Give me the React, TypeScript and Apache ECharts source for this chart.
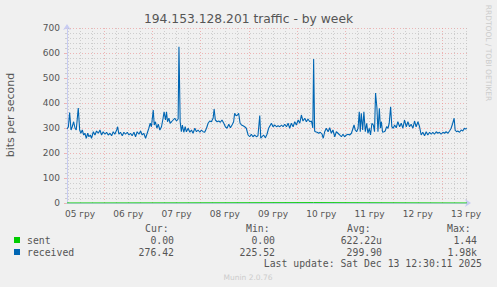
import React, { useEffect, useRef } from "react";
import * as echarts from "echarts";

// hours since 05 Dec 00:00 (local), value in bits per second
const receivedPoints: [number, number][] = [
  [5.5, 296], [6.2, 305], [6.8, 362], [7.5, 292], [8.1, 305], [8.8, 325], [9.5, 299], [10.1, 292],
  [11.1, 380], [11.8, 292], [12.4, 279], [13.1, 292], [13.8, 272], [14.4, 279], [15.1, 259], [15.8, 279],
  [16.4, 265], [17.1, 272], [17.7, 259], [18.6, 285], [19.4, 272], [20.2, 288], [21.1, 279], [21.9, 292],
  [22.7, 272], [23.5, 285], [24.4, 275], [25.2, 283], [26.0, 272], [26.9, 279], [27.7, 269], [28.5, 285],
  [29.3, 275], [30.2, 292], [30.7, 305], [31.3, 275], [32.1, 283], [33.0, 269], [33.8, 283], [34.6, 275],
  [35.5, 283], [36.3, 272], [37.1, 279], [37.9, 269], [38.8, 283], [39.6, 265], [40.4, 285], [41.3, 275],
  [42.1, 288], [42.9, 272], [43.7, 279], [44.6, 259], [45.4, 279], [46.2, 299], [46.9, 319], [47.5, 305],
  [48.4, 372], [48.9, 312], [49.5, 325], [50.2, 299], [50.9, 315], [51.7, 292], [52.5, 305], [53.3, 339],
  [53.8, 365], [54.5, 332], [55.0, 365], [55.5, 325], [56.2, 339], [56.8, 319], [57.5, 325], [58.3, 332],
  [59.1, 339], [60.0, 328], [60.8, 336], [61.2, 625], [61.8, 325], [62.4, 285], [62.9, 312], [63.6, 283],
  [64.3, 305], [64.9, 285], [65.8, 299], [66.6, 283], [67.4, 292], [68.2, 279], [69.1, 299], [69.9, 285],
  [70.7, 292], [71.6, 283], [72.4, 292], [73.2, 285], [74.0, 283], [74.9, 299], [75.7, 319], [76.5, 328],
  [77.3, 325], [78.2, 339], [78.7, 376], [79.3, 332], [80.2, 325], [81.0, 328], [81.8, 323], [82.6, 332],
  [83.5, 319], [84.3, 305], [85.1, 299], [86.0, 315], [86.8, 301], [87.6, 312], [88.4, 325], [88.9, 359],
  [89.6, 349], [90.3, 352], [90.9, 359], [91.6, 319], [92.3, 312], [93.1, 309], [93.9, 305], [94.7, 299],
  [95.6, 272], [96.4, 265], [97.2, 275], [98.0, 265], [98.9, 272], [99.7, 265], [100.5, 269], [101.4, 350],
  [101.9, 259], [102.5, 265], [103.3, 272], [104.2, 261], [105.0, 275], [105.8, 299], [107.2, 319], [108.0, 305],
  [108.9, 312], [109.7, 305], [110.5, 309], [111.4, 305], [112.2, 312], [113.0, 305], [113.8, 315], [114.7, 305],
  [115.5, 319], [116.3, 299], [117.1, 319], [118.0, 305], [118.8, 325], [119.6, 312], [120.5, 332], [121.3, 319],
  [122.1, 352], [122.9, 328], [123.8, 339], [124.6, 325], [125.4, 336], [126.3, 325], [127.1, 328], [127.8, 300],
  [128.2, 576], [128.7, 288], [129.1, 285], [129.9, 283], [130.7, 279], [131.5, 283], [132.4, 275], [133.0, 259],
  [133.7, 285], [134.5, 299], [135.4, 285], [136.2, 301], [137.0, 279], [137.8, 292], [138.7, 265], [139.5, 285],
  [140.3, 279], [141.2, 272], [142.0, 265], [142.8, 275], [143.6, 265], [144.5, 272], [145.3, 275], [146.1, 272],
  [147.0, 279], [147.8, 299], [148.3, 312], [148.9, 292], [149.6, 285], [150.3, 299], [150.9, 365], [151.4, 285],
  [151.9, 359], [152.6, 292], [153.2, 365], [153.9, 285], [154.6, 319], [155.2, 279], [155.9, 299], [156.5, 272],
  [157.2, 319], [157.9, 312], [158.5, 285], [159.0, 440], [159.7, 379], [160.2, 285], [160.9, 379], [161.4, 299],
  [161.9, 325], [162.5, 283], [163.2, 285], [163.8, 288], [164.5, 305], [165.2, 299], [165.8, 319], [166.5, 385],
  [167.1, 305], [167.8, 299], [168.5, 312], [169.3, 301], [170.1, 325], [171.0, 305], [171.8, 319], [172.6, 299],
  [173.4, 332], [174.3, 305], [175.1, 325], [175.9, 305], [176.7, 315], [177.6, 299], [178.4, 328], [179.2, 305],
  [180.1, 325], [180.9, 305], [181.7, 272], [182.5, 283], [183.4, 269], [184.2, 285], [185.0, 272], [185.9, 283],
  [186.7, 275], [187.5, 283], [188.3, 275], [189.2, 285], [190.0, 279], [190.8, 283], [191.6, 275], [192.5, 283],
  [193.3, 279], [194.1, 285], [195.0, 279], [195.8, 288], [196.6, 299], [197.4, 319], [198.1, 339], [198.6, 292],
  [199.3, 285], [199.9, 288], [200.8, 283], [201.6, 292], [202.4, 288], [203.2, 299], [203.7, 296], [204.5, 298],
];

const sentPoints: [number, number][] = [
  [5.5, 0], [61.2, 0.5], [128.2, 1.44], [204.5, 0],
];

const dayLabels = ["05 гру", "06 гру", "07 гру", "08 гру", "09 гру", "10 гру", "11 гру", "12 гру", "13 гру"];
const yTicks = { min: 0, max: 700, interval: 100 };
const timeRange = { start: 5.5, end: 204.5 };

const legendNames = ["sent", "received"];
const legendColors = ["#00CC00", "#0066B3"];
const curValues = ["0.00", "276.42"];
const minValues = ["0.00", "225.52"];
const avgValues = ["622.22u", "299.90"];
const maxValues = ["1.44", "1.98k"];

const titleText = "194.153.128.201 traffic - by week";
const yAxisTitle = "bits per second";
const lastUpdate = "Last update: Sat Dec 13 12:30:11 2025";
const footer = "Munin 2.0.76";
const sideText = "RRDTOOL / TOBI OETIKER";

const MONO = "'DejaVu Sans Mono', monospace";
const SANS = "'DejaVu Sans', sans-serif";
const TXT = "#555555";
const MAJOR = "rgba(235, 140, 140, 0.6)";
const MINOR = "rgba(190, 190, 190, 0.7)";
const AXIS = "#c8ccf2";

export default function App() {
  const ref = useRef<HTMLDivElement>(null);
  useEffect(() => {
    if (!ref.current) return;
    const chart = echarts.init(ref.current, null, { renderer: "svg" });

    const midnights: number[] = [];
    const noons: number[] = [];
    const sixHours: number[] = [];
    for (let h = 0; h <= timeRange.end; h += 6) {
      if (h < timeRange.start) continue;
      if (h % 24 === 0) midnights.push(h);
      else sixHours.push(h);
    }
    for (let i = 0; i < dayLabels.length; i++) noons.push(12 + i * 24);

    const graphics: any[] = [
      {
        type: "text", x: 248.5, y: 19,
        style: { text: titleText, font: `12.3px ${SANS}`, fill: TXT, align: "center", verticalAlign: "middle" },
      },
      {
        type: "text", x: 10, y: 115, rotation: Math.PI / 2,
        style: { text: yAxisTitle, font: `11px ${SANS}`, fill: TXT, align: "center", verticalAlign: "middle" },
      },
      {
        type: "text", x: 488, y: 53, rotation: -Math.PI / 2,
        style: { text: sideText, font: `7.5px ${SANS}`, fill: "#cccccc", align: "center", verticalAlign: "middle" },
      },
      { type: "text", x: 145, y: 228, style: { text: "Cur:", font: `9.8px ${MONO}`, fill: TXT, verticalAlign: "middle" } },
      { type: "text", x: 246, y: 228, style: { text: "Min:", font: `9.8px ${MONO}`, fill: TXT, verticalAlign: "middle" } },
      { type: "text", x: 347, y: 228, style: { text: "Avg:", font: `9.8px ${MONO}`, fill: TXT, verticalAlign: "middle" } },
      { type: "text", x: 447, y: 228, style: { text: "Max:", font: `9.8px ${MONO}`, fill: TXT, verticalAlign: "middle" } },
      {
        type: "text", x: 482, y: 263,
        style: { text: lastUpdate, font: `9.8px ${MONO}`, fill: TXT, align: "right", verticalAlign: "middle" },
      },
      {
        type: "text", x: 248, y: 277,
        style: { text: footer, font: `7.5px ${SANS}`, fill: "#cccccc", align: "center", verticalAlign: "middle" },
      },
    ];
    legendNames.forEach((name, i) => {
      const y = 240 + i * 12;
      graphics.push({ type: "rect", shape: { x: 14, y: y - 3, width: 6, height: 6 }, style: { fill: legendColors[i] } });
      graphics.push({ type: "text", x: 27, y, style: { text: name, font: `9.8px ${MONO}`, fill: TXT, verticalAlign: "middle" } });
      const cols: [string, number][] = [[curValues[i], 174], [minValues[i], 275], [avgValues[i], 382], [maxValues[i], 477]];
      cols.forEach(([t, x]) => {
        graphics.push({ type: "text", x, y, style: { text: t, font: `9.8px ${MONO}`, fill: TXT, align: "right", verticalAlign: "middle" } });
      });
    });

    chart.setOption({
      animation: false,
      backgroundColor: "#f0f0f0",
      grid: { left: 67, right: 30, top: 28, bottom: 84, containLabel: false },
      xAxis: [
        {
          type: "value", min: timeRange.start, max: timeRange.end,
          axisLine: { show: true, lineStyle: { color: AXIS, width: 1 }, symbol: ["none", "arrow"], symbolSize: [6, 6], symbolOffset: [0, 4] },
          axisTick: { show: false, customValues: midnights },
          axisLabel: {
            customValues: noons, color: TXT, fontSize: 9, fontFamily: SANS, margin: 6,
            formatter: (v: number) => dayLabels[Math.round((v - 12) / 24)] ?? "",
          },
          splitLine: { show: true, lineStyle: { color: MAJOR, type: [1, 2], width: 1 } },
          z: 3,
        },
        {
          type: "value", min: timeRange.start, max: timeRange.end, gridIndex: 0,
          axisLine: { show: false },
          axisTick: { show: false, customValues: sixHours },
          axisLabel: { show: false },
          splitLine: { show: true, lineStyle: { color: MINOR, type: [1, 2], width: 1 } },
          z: 1,
        },
      ],
      yAxis: {
        type: "value", min: yTicks.min, max: yTicks.max, interval: yTicks.interval,
        axisLine: { show: true, lineStyle: { color: AXIS, width: 1 }, symbol: ["none", "arrow"], symbolSize: [6, 6], symbolOffset: [0, 4] },
        axisTick: { show: true, length: 3, lineStyle: { color: MAJOR } },
        minorTick: { show: true, splitNumber: 5, length: 2, lineStyle: { color: MINOR } },
        axisLabel: { color: TXT, fontSize: 9, fontFamily: SANS, margin: 7 },
        splitLine: { show: true, lineStyle: { color: MAJOR, type: [1, 2], width: 1 } },
        minorSplitLine: { show: true, lineStyle: { color: MINOR, type: [1, 2], width: 1 } },
      },
      series: [
        {
          name: legendNames[0], type: "line", data: sentPoints, xAxisIndex: 0, showSymbol: false,
          lineStyle: { color: legendColors[0], width: 1 }, itemStyle: { color: legendColors[0] }, z: 4,
        },
        {
          name: legendNames[1], type: "line", data: receivedPoints, xAxisIndex: 0, showSymbol: false,
          lineStyle: { color: legendColors[1], width: 1.1 }, itemStyle: { color: legendColors[1] }, z: 5,
        },
      ],
      graphic: graphics,
    });
    return () => chart.dispose();
  }, []);
  return <div ref={ref} style={{ position: "fixed", left: 0, top: 0, width: 497, height: 287 }} />;
}
